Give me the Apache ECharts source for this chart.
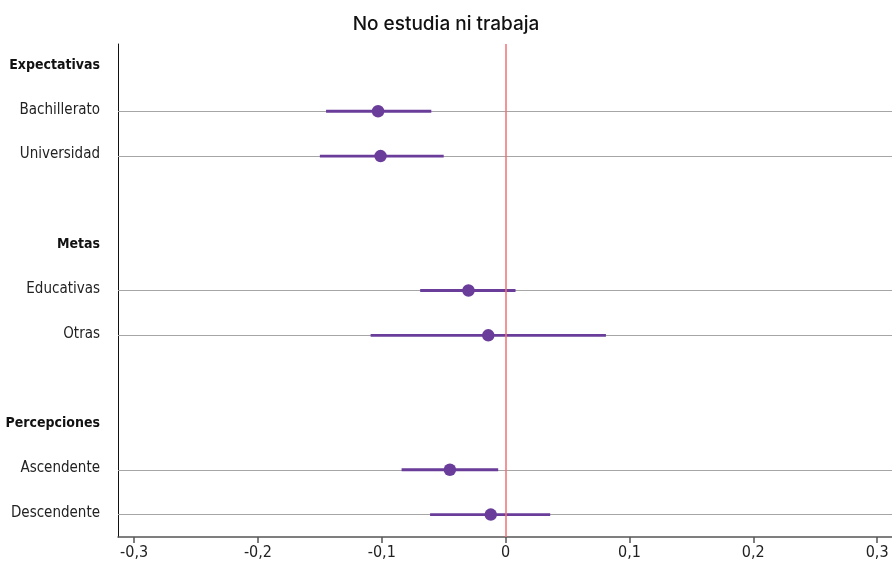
<!DOCTYPE html>
<html>
<head>
<meta charset="utf-8">
<script src="https://cdn.jsdelivr.net/npm/echarts@6/dist/echarts.min.js"></script>
<style>
html,body{margin:0;padding:0;background:#fff;}
#chart{width:892px;height:569px;}
</style>
</head>
<body>
<div id="chart"></div>
<script>
const categories = ['Expectativas','Bachillerato','Universidad','  ','Metas','Educativas','Otras','   ','Percepciones','Ascendente','Descendente'];
const headers = ['Expectativas','Metas','Percepciones'];
const rows = ['Bachillerato','Universidad','Educativas','Otras','Ascendente','Descendente'];
const estimates = [-0.103, -0.101, -0.030, -0.014, -0.045, -0.012];
const lowerCI = [-0.145, -0.150, -0.069, -0.109, -0.084, -0.061];
const upperCI = [-0.060, -0.050, 0.008, 0.081, -0.006, 0.036];
const tickValues = [-0.3, -0.2, -0.1, 0, 0.1, 0.2, 0.3];

const PURPLE = '#6a3d9a';
const FONT = "'Liberation Sans Narrow', 'DejaVu Sans Condensed', 'Roboto Condensed', sans-serif";
const rowIdx = rows.map(r => categories.indexOf(r));
const pointData = rows.map((r, i) => [estimates[i], rowIdx[i]]);
const barData = rows.map((r, i) => [lowerCI[i], upperCI[i], rowIdx[i]]);
const fmt = v => Math.abs(v) < 1e-9 ? '0' : v.toFixed(1).replace('.', ',');

const chart = echarts.init(document.getElementById('chart'), null, {renderer: 'canvas'});
chart.setOption({
  animation: false,
  backgroundColor: '#fff',
  title: {
    text: 'No estudia ni trabaja',
    left: 'center',
    top: 10,
    textStyle: {fontFamily: 'Inter', fontSize: 19, fontWeight: 500, color: '#111'}
  },
  grid: {left: 118, right: 0, top: 44, bottom: 32, containLabel: false, outerBoundsMode: 'none'},
  xAxis: {
    type: 'value',
    min: -0.313,
    max: 0.312,
    splitLine: {show: false},
    axisLine: {show: true, onZero: false, lineStyle: {color: '#555', width: 1.5}},
    axisTick: {show: true, length: 6, customValues: tickValues, lineStyle: {color: '#555', width: 1.5}},
    axisLabel: {
      customValues: tickValues,
      formatter: fmt,
      fontFamily: FONT,
      fontSize: 16,
      color: '#222',
      margin: 8
    }
  },
  yAxis: {
    type: 'category',
    inverse: true,
    data: categories,
    axisLine: {show: true, onZero: false, lineStyle: {color: '#111', width: 1}},
    axisTick: {show: false},
    splitLine: {show: false},
    axisLabel: {
      interval: 0,
      margin: 18,
      fontFamily: FONT,
      fontSize: 15,
      color: '#222',
      padding: [0, 0, 3, 0],
      formatter: v => headers.includes(v) ? '{b|' + v + '}' : v,
      rich: {b: {fontFamily: FONT, fontSize: 14, fontWeight: 'bold', color: '#111'}}
    }
  },
  series: [
    {
      type: 'custom',
      z: 2,
      data: barData,
      renderItem: function (params, api) {
        const idx = api.value(2);
        const p1 = api.coord([api.value(0), idx]);
        const p2 = api.coord([api.value(1), idx]);
        return {
          type: 'line',
          shape: {x1: p1[0], y1: p1[1], x2: p2[0], y2: p2[1]},
          style: {stroke: PURPLE, lineWidth: 2.8}
        };
      },
      markLine: {
        silent: true,
        symbol: 'none',
        label: {show: false},
        z: 1,
        lineStyle: {color: '#a6a6a6', width: 1, type: 'solid'},
        data: rowIdx.map(i => ({yAxis: i}))
      }
    },
    {
      type: 'scatter',
      z: 4,
      data: pointData,
      symbol: 'circle',
      symbolSize: 12.5,
      itemStyle: {color: PURPLE, opacity: 1},
      markLine: {
        silent: true,
        symbol: 'none',
        label: {show: false},
        lineStyle: {color: '#f07077', width: 1.5, type: 'solid'},
        data: [{xAxis: 0}]
      }
    }
  ]
});
</script>
</body>
</html>
